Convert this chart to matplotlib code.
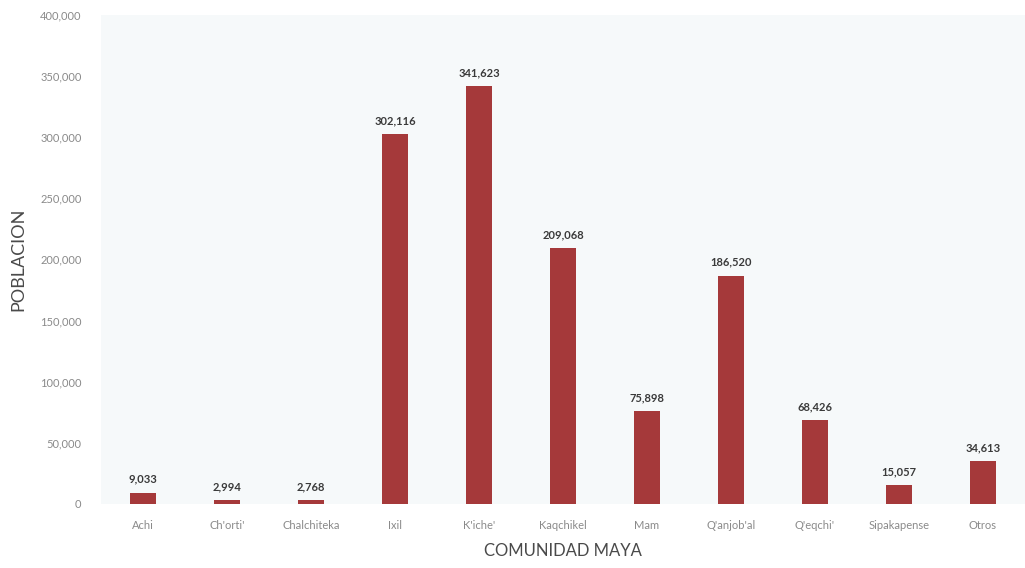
import matplotlib
matplotlib.use('Agg')
import matplotlib.pyplot as plt
from matplotlib.ticker import FuncFormatter

# data
comunidades = ['Achi', "Ch'orti'", 'Chalchiteka', 'Ixil', "K'iche'", 'Kaqchikel',
               'Mam', "Q'anjob'al", "Q'eqchi'", 'Sipakapense', 'Otros']
poblacion = [9033, 2994, 2768, 302116, 341623, 209068,
             75898, 186520, 68426, 15057, 34613]
yticks = [0, 50000, 100000, 150000, 200000, 250000, 300000, 350000, 400000]

plt.rcParams['font.family'] = ['Lato', 'DejaVu Sans']

fig = plt.figure(figsize=(10.25, 5.68), dpi=100)
ax = fig.add_axes([0.0985, 0.113, 0.9015, 0.861])
ax.set_facecolor('#f6f9fa')

x = range(len(comunidades))
bars = ax.bar(x, poblacion, width=0.31, color='#a5393a', edgecolor='none')

for xi, val in zip(x, poblacion):
    ax.text(xi, val + 6500, '{:,}'.format(val), ha='center', va='bottom',
            fontsize=8, fontweight='bold', color='#3a3a3a')

ax.set_xlim(-0.5, len(comunidades) - 0.5)
ax.set_ylim(0, 400000)
ax.set_yticks(yticks)
ax.yaxis.set_major_formatter(FuncFormatter(lambda v, p: '{:,}'.format(int(v))))
ax.set_xticks(list(x))
ax.set_xticklabels(comunidades)
ax.tick_params(axis='both', length=0, labelsize=8, labelcolor='#8a8a8a')
ax.tick_params(axis='x', pad=12)
ax.tick_params(axis='y', pad=14)

for s in ax.spines.values():
    s.set_visible(False)

ax.set_xlabel('COMUNIDAD MAYA', fontsize=12, color='#4a4a4a', labelpad=8)
ax.set_ylabel('POBLACION', fontsize=13, color='#4a4a4a', labelpad=10)

fig.savefig('out.png', dpi=100)
